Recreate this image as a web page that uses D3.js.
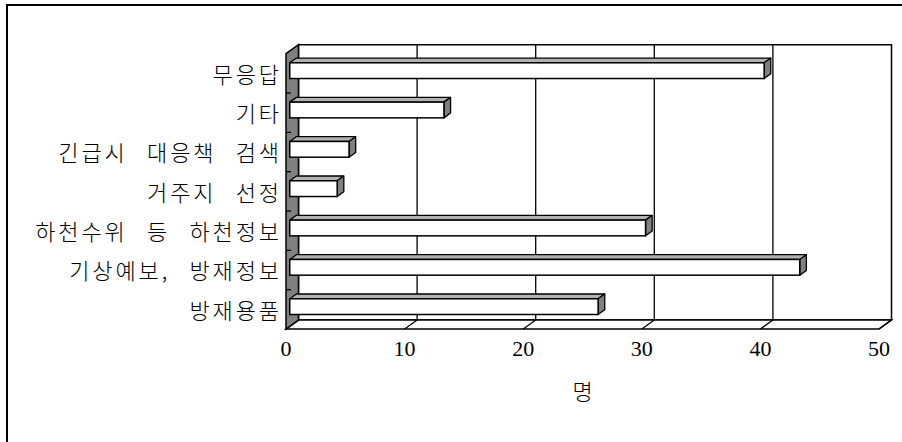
<!DOCTYPE html>
<html>
<head>
<meta charset="utf-8">
<script src="https://cdn.jsdelivr.net/npm/d3@7"></script>
<style>
  html, body { margin: 0; padding: 0; background: #fff; }
  svg { display: block; }
  .cat { font-family: 'Noto Sans CJK KR', sans-serif; font-weight: 300; font-size: 22px; }
  .num { font-family: 'Liberation Serif', 'DejaVu Serif', serif; font-size: 22px; }
</style>
</head>
<body>
<div id="chart"></div>
<script>
// categories from top to bottom, as in the picture
const categories = ['무응답', '기타', '긴급시 대응책 검색', '거주지 선정', '하천수위 등 하천정보', '기상예보, 방재정보', '방재용품'];
const counts = [40, 13, 5, 4, 30, 43, 26];
const xTicks = [0, 10, 20, 30, 40, 50];
const axisTitle = '명';

const width = 902;
const height = 442;

// 3d depth vector of the plot box
const depth = { dx: 12.5, dy: -9 };
const barFront = 0.3;
const barBack = 0.83;

const svg = d3.select('#chart')
  .append('svg')
  .attr('width', width)
  .attr('height', height);

// chart area frame (runs off the right and bottom edges)
svg.append('rect')
  .attr('x', 7)
  .attr('y', 5)
  .attr('width', 920)
  .attr('height', 460)
  .attr('fill', '#fff')
  .attr('stroke', '#000')
  .attr('stroke-width', 2);

const xScale = d3.scaleLinear()
  .domain([0, 50])
  .range([286, 879]);

const yScale = d3.scaleBand()
  .domain(categories)
  .range([53.7, 329])
  .paddingInner(0)
  .paddingOuter(0);

const x0 = xScale(0);
const x1 = xScale(50);
const y0 = yScale.range()[0];
const y1 = yScale.range()[1];
const { dx, dy } = depth;

const line = d3.line();

// back wall
svg.append('path')
  .attr('d', line([[x0 + dx, y0 + dy], [x1 + dx, y0 + dy], [x1 + dx, y1 + dy], [x0 + dx, y1 + dy]]) + 'Z')
  .attr('fill', '#fff')
  .attr('stroke', '#000')
  .attr('stroke-width', 1.5);

// gridlines on back wall
svg.selectAll('.grid')
  .data(xTicks.slice(1, -1))
  .enter()
  .append('line')
  .attr('class', 'grid')
  .attr('x1', (d) => xScale(d) + dx)
  .attr('x2', (d) => xScale(d) + dx)
  .attr('y1', y0 + dy)
  .attr('y2', y1 + dy)
  .attr('stroke', '#000')
  .attr('stroke-width', 1.3);

// floor
svg.append('path')
  .attr('d', line([[x0, y1], [x1, y1], [x1 + dx, y1 + dy], [x0 + dx, y1 + dy]]) + 'Z')
  .attr('fill', '#fff')
  .attr('stroke', '#000')
  .attr('stroke-width', 1.5);

svg.selectAll('.floorgrid')
  .data(xTicks)
  .enter()
  .append('line')
  .attr('class', 'floorgrid')
  .attr('x1', (d) => xScale(d))
  .attr('x2', (d) => xScale(d) + dx)
  .attr('y1', y1)
  .attr('y2', y1 + dy)
  .attr('stroke', '#000')
  .attr('stroke-width', 1.3);

// left wall
svg.append('path')
  .attr('d', line([[x0, y0], [x0 + dx, y0 + dy], [x0 + dx, y1 + dy], [x0, y1]]) + 'Z')
  .attr('fill', '#808080')
  .attr('stroke', '#000')
  .attr('stroke-width', 1.5);

// category tick marks
svg.selectAll('.cattick')
  .data(categories.slice(1))
  .enter()
  .append('line')
  .attr('class', 'cattick')
  .attr('x1', x0)
  .attr('x2', x0 + 5)
  .attr('y1', (d) => yScale(d))
  .attr('y2', (d) => yScale(d))
  .attr('stroke', '#000')
  .attr('stroke-width', 1.3);

// bars
const half = yScale.bandwidth() * 0.2;
const fx = dx * barFront, fy = dy * barFront;
const bx = dx * barBack, by = dy * barBack;

const bars = svg.selectAll('.bar')
  .data(categories.map((c, i) => ({ cat: c, value: counts[i] })))
  .enter()
  .append('g')
  .attr('class', 'bar');

bars.append('path')
  .attr('d', (d) => {
    const yc = yScale(d.cat) + yScale.bandwidth() / 2;
    const xs = x0, xe = xScale(d.value);
    return line([[xs + fx, yc - half + fy], [xe + fx, yc - half + fy], [xe + bx, yc - half + by], [xs + bx, yc - half + by]]) + 'Z';
  })
  .attr('fill', '#b2b2b2')
  .attr('stroke', '#000')
  .attr('stroke-width', 1.3)
  .attr('stroke-linejoin', 'round');

bars.append('path')
  .attr('d', (d) => {
    const yc = yScale(d.cat) + yScale.bandwidth() / 2;
    const xe = xScale(d.value);
    return line([[xe + fx, yc - half + fy], [xe + bx, yc - half + by], [xe + bx, yc + half + by], [xe + fx, yc + half + fy]]) + 'Z';
  })
  .attr('fill', '#808080')
  .attr('stroke', '#000')
  .attr('stroke-width', 1.3)
  .attr('stroke-linejoin', 'round');

bars.append('rect')
  .attr('x', x0 + fx)
  .attr('y', (d) => yScale(d.cat) + yScale.bandwidth() / 2 - half + fy)
  .attr('width', (d) => xScale(d.value) - x0)
  .attr('height', half * 2)
  .attr('fill', '#fff')
  .attr('stroke', '#000')
  .attr('stroke-width', 1.5);

// category labels (wide spacing like the original Batang text)
svg.selectAll('.cat')
  .data(categories)
  .enter()
  .append('text')
  .attr('class', 'cat')
  .attr('x', 282)
  .attr('y', (d) => yScale(d) + yScale.bandwidth() / 2)
  .attr('dy', '0.42em')
  .attr('text-anchor', 'end')
  .style('letter-spacing', '2.9px')
  .style('word-spacing', '11.5px')
  .text((d) => d);

// value axis labels
svg.selectAll('.num')
  .data(xTicks)
  .enter()
  .append('text')
  .attr('class', 'num')
  .attr('x', (d) => xScale(d))
  .attr('y', 356)
  .attr('text-anchor', 'middle')
  .text((d) => d);

svg.append('text')
  .attr('class', 'cat')
  .attr('x', (x0 + x1) / 2)
  .attr('y', 391)
  .attr('dy', '0.42em')
  .attr('text-anchor', 'middle')
  .text(axisTitle);
</script>
</body>
</html>
